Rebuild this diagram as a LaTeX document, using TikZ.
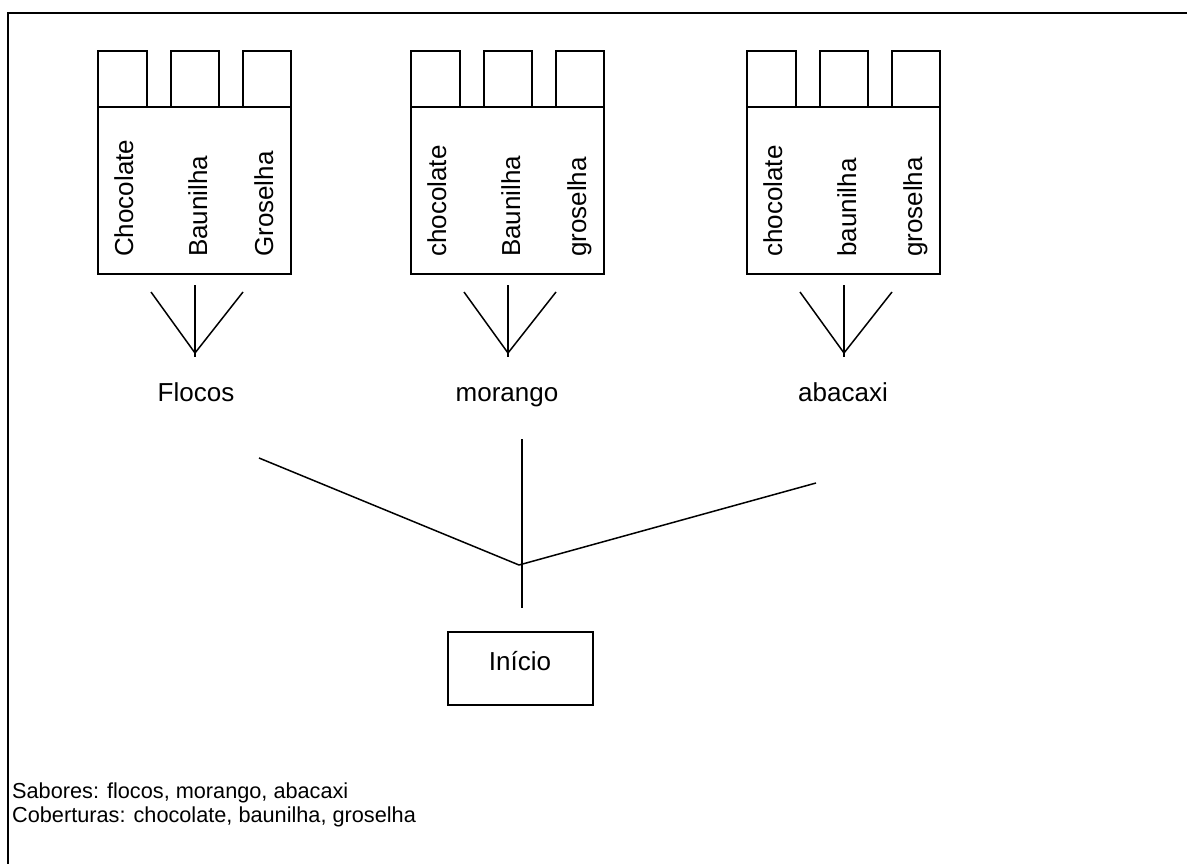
\documentclass[tikz,border=0pt]{standalone}
\usepackage{fontspec}
\setmainfont{Liberation Sans}
\newcommand\sorvete[5]{%
  \node[box, minimum width=193pt, minimum height=167pt, anchor=north west] (#1) at (#2,107) {};
  \node[box, minimum width=49pt, minimum height=56pt, anchor=south west] (#1sa) at (#2,107) {};
  \node[box, minimum width=48pt, minimum height=56pt, anchor=south west] (#1sb) at ({#2+73},107) {};
  \node[box, minimum width=48pt, minimum height=56pt, anchor=south east] (#1sc) at ({#2+193},107) {};
  \node[vtext] (#1ta) at ({#2+35},257) {#3};
  \node[vtext] (#1tb) at ({#2+109},257) {#4};
  \node[vtext] (#1tc) at ({#2+175},257) {#5};
  \coordinate (#1ft) at ({#2+97},285);
  \coordinate (#1fb) at ({#2+97},357);
  \coordinate (#1fj) at ({#2+97},353);
  \coordinate (#1fl) at ({#2+53},292);
  \coordinate (#1fr) at ({#2+145},292);
  \draw[conn] (#1ft) -- (#1fb);
  \draw[conn] (#1fl) -- (#1fj) -- (#1fr);
}
\begin{document}
\begin{tikzpicture}[x=1pt,y=-1pt,
  box/.style={draw, line width=1.5pt, inner sep=0pt, outer sep=0pt},
  vtext/.style={rotate=90, anchor=base west, inner sep=0pt, font=\fontsize{26}{31}\selectfont},
  big/.style={inner sep=0pt, anchor=base, font=\fontsize{26}{31}\selectfont},
  small/.style={inner sep=0pt, anchor=base west, font=\fontsize{21.7}{25}\selectfont},
  conn/.style={line width=1.5pt},
  frame/.style={line width=2pt}]
\useasboundingbox (0,0) rectangle (1187,864);
\fill[white] (0,0) rectangle (1187,864);
\draw[frame] (8,864) -- (8,13) -- (1187,13);

\sorvete{ba}{98}{Chocolate}{Baunilha}{Groselha}
\sorvete{bb}{411}{chocolate}{Baunilha}{groselha}
\sorvete{bc}{747}{chocolate}{baunilha}{groselha}

\node[big] (flocos) at (196,401) {Flocos};
\node[big] (morango) at (507,401) {morango};
\node[big] (abacaxi) at (843,401) {abacaxi};

\coordinate (lt) at (259,458);
\coordinate (rt) at (816,483);
\coordinate (jn) at (519,565);
\coordinate (vt) at (522,439);
\coordinate (vb) at (522,608);
\draw[conn] (lt) -- (jn);
\draw[conn] (rt) -- (jn);
\draw[conn] (vt) -- (vb);

\node[box, minimum width=145pt, minimum height=73pt, anchor=north west] (inicio) at (448,632) {};
\node[big] (iniciotxt) at (520,670) {Início};

\node[small] (sabores) at (12,798) {Sabores: flocos, morango, abacaxi};
\node[small] (coberturas) at (12,822) {Coberturas: chocolate, baunilha, groselha};
\end{tikzpicture}
\end{document}
